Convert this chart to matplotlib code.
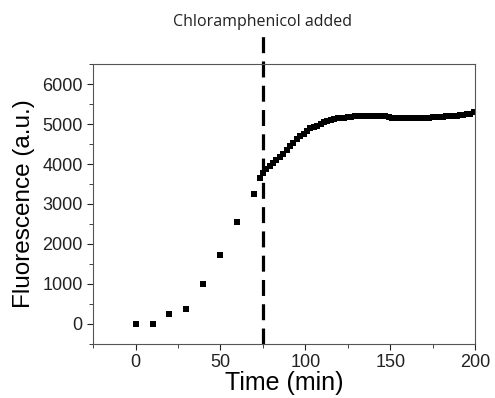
import matplotlib
matplotlib.use("Agg")
from matplotlib import pyplot as plt
from matplotlib.ticker import MultipleLocator

# early time points (every 10 min)
t_early = [0, 10, 20, 30, 40, 50, 60, 70]
f_early = [0, 0, 250, 360, 1000, 1720, 2550, 3250]

# dense readings after chloramphenicol addition
t_late = [73, 75, 77, 79, 81, 83, 85, 87, 89, 91, 93, 95, 97, 99, 101, 103,
          105, 107, 109, 111, 113, 115, 117, 119, 121, 123, 125, 127, 129, 131,
          133, 135, 137, 139, 141, 143, 145, 147, 149, 151, 153, 155, 157, 159,
          161, 163, 165, 167, 169, 171, 173, 175, 177, 179, 181, 183, 185, 187,
          189, 191, 193, 195, 197, 199]
f_late = [3650, 3780, 3880, 3950, 4020, 4100, 4180, 4250, 4340, 4440, 4530,
          4620, 4700, 4760, 4830, 4890, 4930, 4960, 5000, 5040, 5070, 5100,
          5120, 5140, 5150, 5160, 5170, 5180, 5190, 5200, 5200, 5205, 5205,
          5210, 5210, 5205, 5200, 5195, 5180, 5160, 5150, 5145, 5150, 5155,
          5150, 5140, 5140, 5150, 5150, 5155, 5160, 5165, 5170, 5180, 5185,
          5190, 5195, 5200, 5210, 5215, 5225, 5240, 5260, 5290]

t_added = 75

plt.rcParams['font.family'] = ['Liberation Sans', 'DejaVu Sans']

fig = plt.figure(figsize=(4.95, 3.98), dpi=100)
ax = fig.add_axes([0.188, 0.136, 0.772, 0.703])

ax.plot(t_early + t_late, f_early + f_late, 's', color='black', markersize=4.8,
        markeredgewidth=0)

ax.axvline(t_added, ymin=0, ymax=1.1, color='black', lw=2.3,
           linestyle=(0, (5, 2.6)), clip_on=False)
ax.text(t_added, 7560, 'Chloramphenicol added', ha='center', va='center',
        fontsize=11.5, family=['Open Sans', 'DejaVu Sans'], color='#222222')

ax.set_xlim(-25, 200)
ax.set_ylim(-500, 6500)
ax.xaxis.set_major_locator(MultipleLocator(50))
ax.xaxis.set_minor_locator(MultipleLocator(25))
ax.yaxis.set_minor_locator(MultipleLocator(500))
ax.set_yticks(range(0, 6001, 1000))

ax.tick_params(which='both', direction='out', labelsize=13, colors='#222222')
ax.tick_params(which='major', length=4)
ax.tick_params(which='minor', length=3)
for s in ax.spines.values():
    s.set_color('#555555')

ax.set_xlabel('Time (min)', fontsize=18, labelpad=0)
ax.set_ylabel('Fluorescence (a.u.)', fontsize=17.5, labelpad=5)

fig.savefig('out.png', dpi=100)
